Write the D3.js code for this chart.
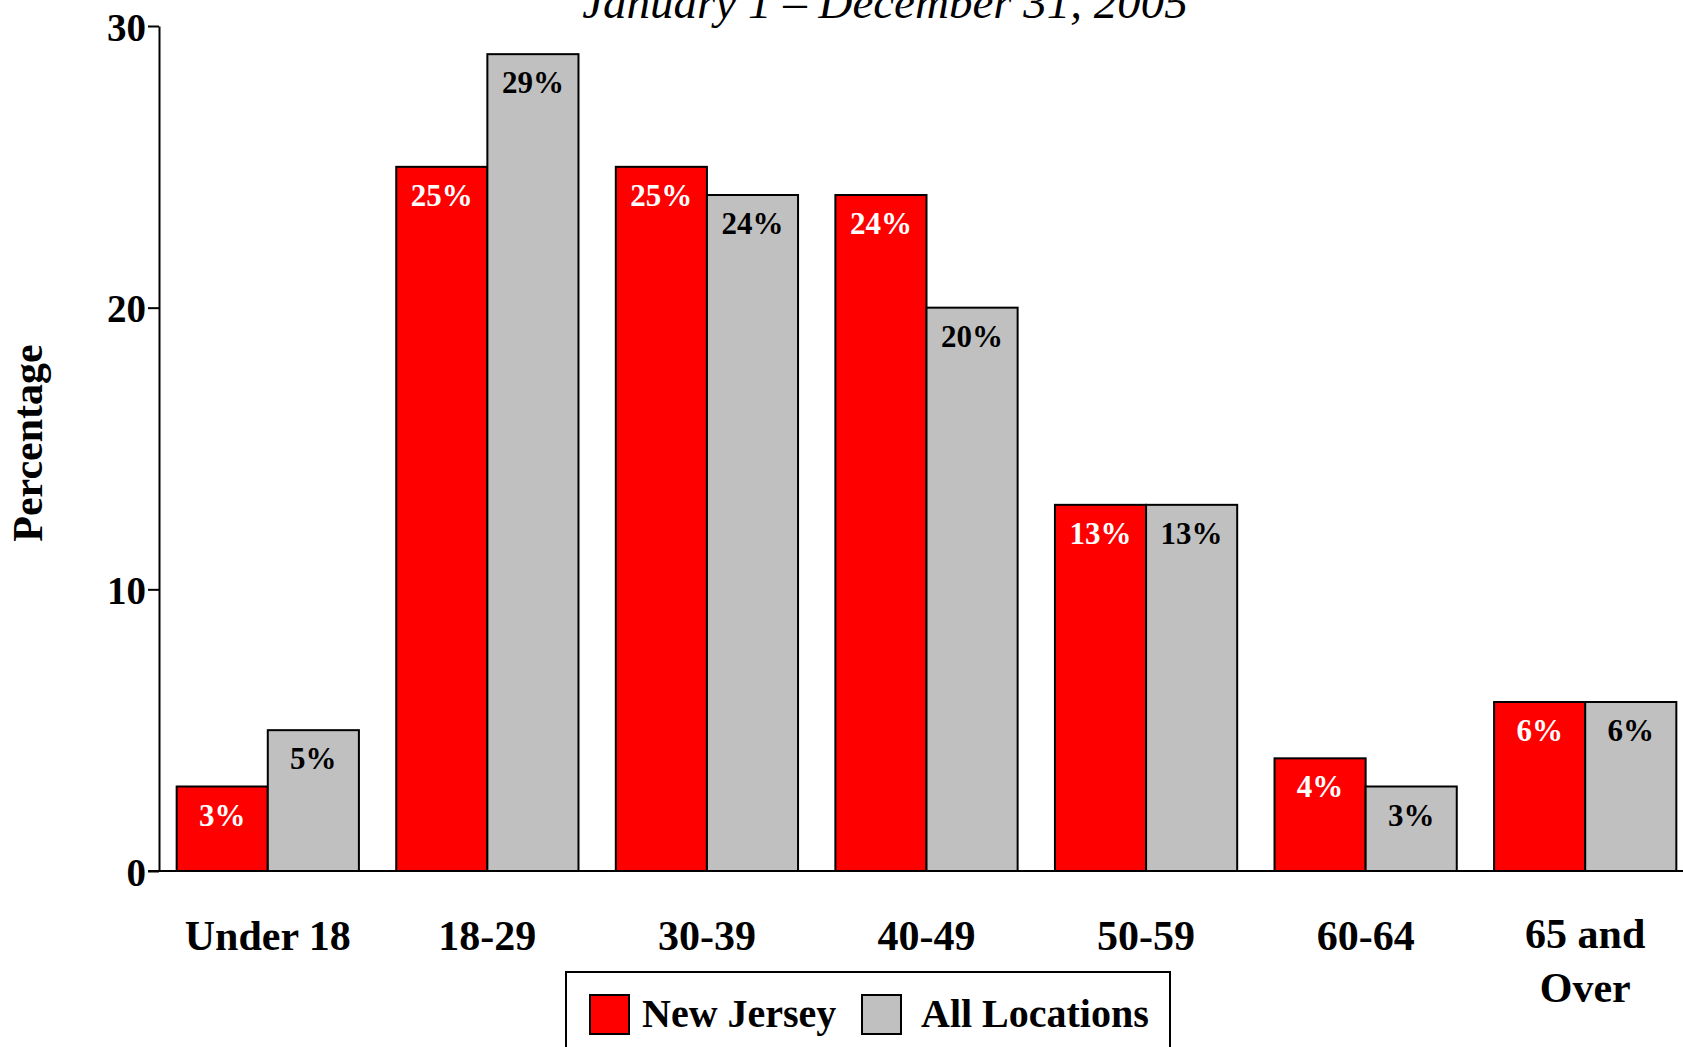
<!DOCTYPE html>
<html>
<head>
<meta charset="utf-8">
<script src="https://cdn.jsdelivr.net/npm/d3@7"></script>
<style>
  html, body { margin: 0; padding: 0; background: #fff; overflow: hidden; }
  svg { display: block; }
</style>
</head>
<body>
<div id="chart"></div>
<script>
// data
const categories = ["Under 18", "18-29", "30-39", "40-49", "50-59", "60-64", "65 and Over"];
const seriesNames = ["New Jersey", "All Locations"];
const newJersey = [3, 25, 25, 24, 13, 4, 6];
const allLocations = [5, 29, 24, 20, 13, 3, 6];
const yTicks = [0, 10, 20, 30];
const title = "January 1 \u2013 December 31, 2005";

const W = 1683, H = 1047;
const FONT = "'Liberation Serif', 'Times New Roman', serif";
const COLORS = { "New Jersey": "#ff0000", "All Locations": "#c0c0c0" };

const svg = d3.select("#chart").append("svg")
    .attr("width", W)
    .attr("height", H)
    .style("font-family", FONT);

//////// scales ////////
const x0 = d3.scaleBand()
    .domain(categories)
    .range([158, 1695])
    .paddingInner(0.17)
    .paddingOuter(0.085);

const x1 = d3.scaleBand()
    .domain(seriesNames)
    .range([0, x0.bandwidth()]);

const y = d3.scaleLinear()
    .domain([0, 30])
    .range([871, 26]);

//////// title (cut off at the top, as in the source) ////////
svg.append("text")
    .attr("x", 885)
    .attr("y", 18)
    .attr("text-anchor", "middle")
    .attr("font-style", "italic")
    .attr("font-size", 47)
    .text(title);

//////// bars ////////
const rows = categories.map((c, i) => ({
    cat: c,
    values: [
        { series: "New Jersey", value: newJersey[i] },
        { series: "All Locations", value: allLocations[i] }
    ]
}));

const groups = svg.append("g").selectAll("g")
    .data(rows)
    .join("g")
    .attr("transform", d => `translate(${x0(d.cat)},0)`);

groups.selectAll("rect")
    .data(d => d.values)
    .join("rect")
    .attr("x", d => x1(d.series))
    .attr("y", d => y(d.value))
    .attr("width", x1.bandwidth())
    .attr("height", d => y(0) - y(d.value))
    .attr("fill", d => COLORS[d.series])
    .attr("stroke", "#000")
    .attr("stroke-width", 2);

groups.selectAll("text")
    .data(d => d.values)
    .join("text")
    .attr("x", d => x1(d.series) + x1.bandwidth() / 2)
    .attr("y", d => y(d.value) + 39)
    .attr("text-anchor", "middle")
    .attr("font-weight", "bold")
    .attr("font-size", 31)
    .attr("fill", d => d.series === "New Jersey" ? "#fff" : "#000")
    .text(d => d.value + "%");

//////// axes ////////
const yAxis = svg.append("g")
    .attr("transform", "translate(159,0)")
    .call(d3.axisLeft(y).tickValues(yTicks).tickSize(11).tickPadding(2).tickSizeOuter(0));
yAxis.select(".domain").attr("stroke", "#000").attr("stroke-width", 2);
yAxis.selectAll(".tick line").attr("stroke", "#000").attr("stroke-width", 2);
yAxis.selectAll(".tick text")
    .attr("font-family", FONT)
    .attr("font-size", 39)
    .attr("font-weight", "bold")
    .attr("fill", "#000")
    .attr("dy", 14);

// baseline along the bottom
svg.append("line")
    .attr("x1", 148).attr("x2", W)
    .attr("y1", y(0)).attr("y2", y(0))
    .attr("stroke", "#000")
    .attr("stroke-width", 2);

// category labels
const catLabels = svg.append("g").selectAll("text")
    .data(categories)
    .join("text")
    .attr("x", d => x0(d) + x0.bandwidth() / 2)
    .attr("y", 950)
    .attr("text-anchor", "middle")
    .attr("font-weight", "bold")
    .attr("font-size", 42);

catLabels.each(function(d) {
    const t = d3.select(this);
    if (d === "65 and Over") {
        t.attr("y", 948);
        t.append("tspan").attr("x", t.attr("x")).text("65 and");
        t.append("tspan").attr("x", t.attr("x")).attr("dy", 54).text("Over");
    } else {
        t.text(d);
    }
});

// y title
svg.append("text")
    .attr("transform", "translate(42,443) rotate(-90)")
    .attr("text-anchor", "middle")
    .attr("font-weight", "bold")
    .attr("font-size", 42)
    .text("Percentage");

//////// legend ////////
const legend = svg.append("g");
legend.append("rect")
    .attr("x", 566).attr("y", 972)
    .attr("width", 604).attr("height", 100)
    .attr("fill", "#fff")
    .attr("stroke", "#000")
    .attr("stroke-width", 2);

const swatchX = [590, 862];
const labelX = [642, 921];
seriesNames.forEach((s, i) => {
    legend.append("rect")
        .attr("x", swatchX[i]).attr("y", 995)
        .attr("width", 39).attr("height", 39)
        .attr("fill", COLORS[s])
        .attr("stroke", "#000")
        .attr("stroke-width", 2);
    legend.append("text")
        .attr("x", labelX[i])
        .attr("y", 1027)
        .attr("font-weight", "bold")
        .attr("font-size", 40)
        .text(s);
});
</script>
</body>
</html>
